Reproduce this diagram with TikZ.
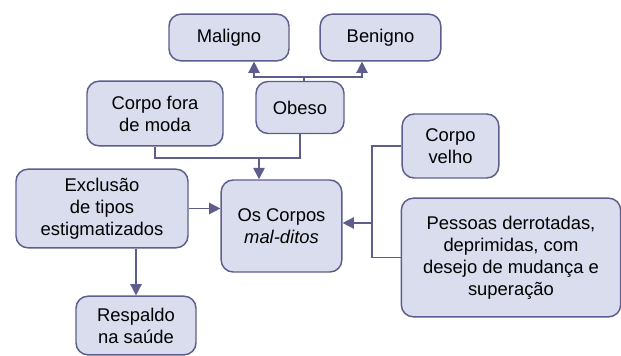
\documentclass[tikz,border=0pt]{standalone}
\usepackage{fontspec}
\setmainfont{Liberation Sans}
\usetikzlibrary{arrows.meta}
\definecolor{caixa}{HTML}{D9DDEE}
\definecolor{borda}{HTML}{5E5E8C}
\tikzset{
    caixa/.style={draw=borda, fill=caixa, line width=1.1pt, rounded corners=9pt,
        align=center, inner sep=2pt,
        font=\fontsize{13.8pt}{16.5pt}\selectfont},
    seta/.style={draw=borda, line width=1.1pt, -{Triangle[length=8.5pt,width=8.5pt]}},
    liga/.style={draw=borda, line width=1.1pt}
}
\begin{document}
\begin{tikzpicture}[x=0.75pt, y=-0.75pt]
    \useasboundingbox (0,0) rectangle (621,356);

    % Caixas de cima
    \node[caixa, minimum width=90pt, minimum height=35pt] (maligno) at (229,37.5) {Maligno};
    \node[caixa, minimum width=90.5pt, minimum height=35pt] (benigno) at (380.5,37.5) {Benigno};
    \node[caixa, minimum width=66pt, minimum height=39pt] (obeso) at (300,107.5) {Obeso};
    \node[caixa, minimum width=102pt, minimum height=48.5pt] (fora) at (155,113.5) {Corpo fora\\de moda};

    % Centro
    \node[caixa, minimum width=90.5pt, minimum height=69pt] (corpos) at (281.5,226) {Os Corpos\\\textit{mal-ditos}};

    % Esquerda
    \node[caixa, minimum width=129pt, minimum height=59pt] (exclusao) at (102,208.5) {Exclusão\\de tipos\\estigmatizados};
    \node[caixa, minimum width=90pt, minimum height=44pt] (respaldo) at (136,325.5) {Respaldo\\na saúde};

    % Direita
    \node[caixa, minimum width=72.5pt, minimum height=48pt] (velho) at (450.5,146) {Corpo\\velho};
    \node[caixa, minimum width=164.5pt, minimum height=89pt] (pessoas) at (511,257.5) {Pessoas derrotadas,\\deprimidas, com\\desejo de mudança e\\superação};

    % Pontos de junção
    \coordinate (jt) at (304,77);
    \coordinate (jm) at (254,77);
    \coordinate (jn) at (362,77);
    \coordinate (jb) at (259,158);
    \coordinate (jr) at (372,223);

    % Obeso -> Maligno / Benigno
    \draw[liga] (obeso.north -| jt) -- (jt);
    \draw[seta] (jt) -- (jm) -- (jm |- maligno.south);
    \draw[seta] (jt) -- (jn) -- (jn |- benigno.south);

    % Corpo fora de moda e Obeso -> Os Corpos
    \draw[liga] (fora.south) |- (jb) -| (obeso.south);
    \draw[seta] (jb) -- (jb |- corpos.north);

    % Exclusão -> Os Corpos, Exclusão -> Respaldo
    \draw[seta] (exclusao.east) -- (exclusao.east -| corpos.west);
    \draw[seta] (exclusao.south -| respaldo.north) -- (respaldo.north);

    % Corpo velho e Pessoas -> Os Corpos
    \draw[liga] (velho.west) -| (jr) |- (pessoas.west);
    \draw[seta] (jr) -- (jr -| corpos.east);
\end{tikzpicture}
\end{document}
